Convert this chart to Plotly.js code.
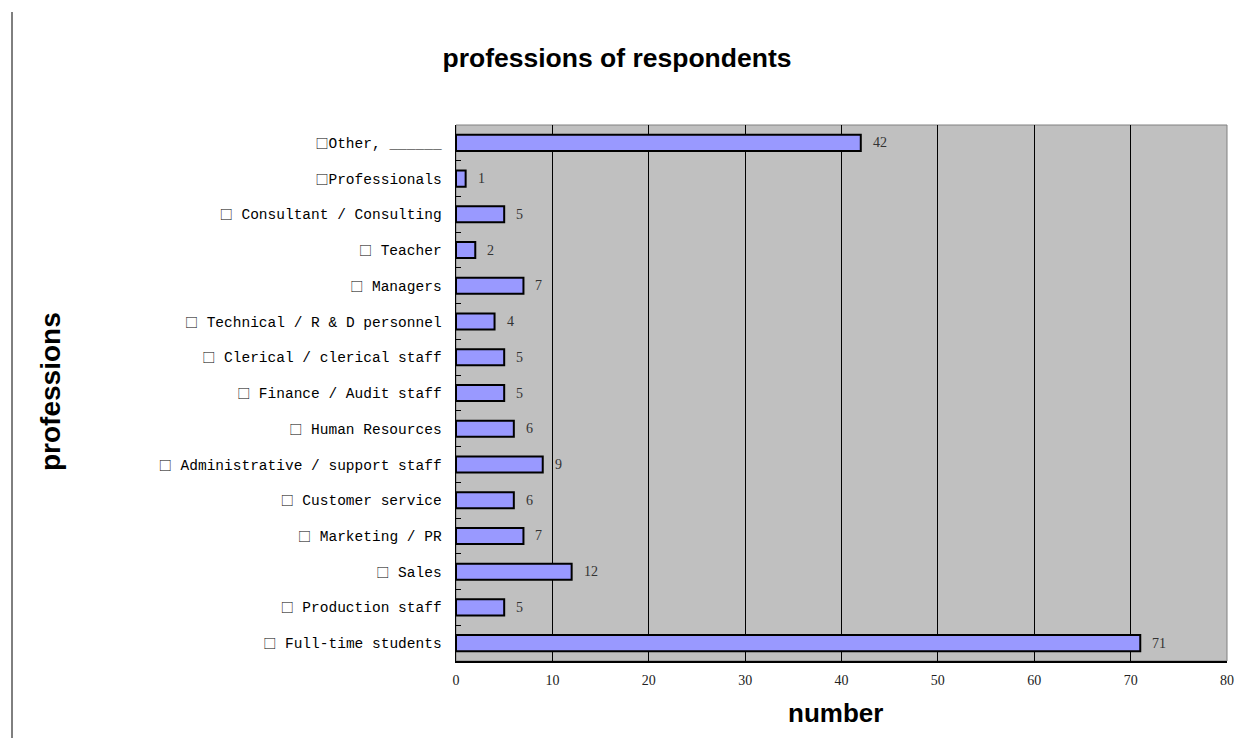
<!DOCTYPE html>
<html>
<head>
<meta charset="utf-8">
<script src="https://cdn.plot.ly/plotly-3.0.1.min.js"></script>
<style>
  html, body { margin: 0; padding: 0; background: #fff; }
  #chart { width: 1246px; height: 738px; }
</style>
</head>
<body>
<div id="chart"></div>
<script>
// Professions, listed bottom to top
const professions = [
  "□ Full-time students",
  "□ Production staff",
  "□ Sales",
  "□ Marketing / PR",
  "□ Customer service",
  "□ Administrative / support staff",
  "□ Human Resources",
  "□ Finance / Audit staff",
  "□ Clerical / clerical staff",
  "□ Technical / R & D personnel",
  "□ Managers",
  "□ Teacher",
  "□ Consultant / Consulting",
  "□Professionals",
  "□Other, ______"
];
const counts = [71, 5, 12, 7, 6, 9, 6, 5, 5, 4, 7, 2, 5, 1, 42];
const xTicks = [0, 10, 20, 30, 40, 50, 60, 70, 80];

const labelFont = "'Liberation Mono', 'DejaVu Sans Mono', monospace";
const numFont = "'Liberation Serif', 'DejaVu Serif', serif";
const titleFont = "'Liberation Sans', Arial, sans-serif";

// the check box glyph is set in a full-width CJK face
const boxed = s => s.replace("□",
  "<span style=\"font-family:'Noto Sans CJK SC';font-size:13px\">□</span>");

// plot area in pixels, used to place page-level decorations
const L = 456, R = 1227, T = 125, B = 661;
const px = x => (x - L) / (R - L);
const py = y => (B - y) / (B - T);

const trace = {
  type: "bar",
  orientation: "h",
  x: counts,
  y: professions,
  width: 0.45,
  marker: { color: "#9999FF", line: { color: "#000", width: 2 } },
  hoverinfo: "x+y"
};

// value labels just past each bar end
const valueLabels = counts.map((v, i) => ({
  x: v, y: professions[i], xref: "x", yref: "y",
  text: String(v), showarrow: false,
  xanchor: "left", xshift: 10,
  font: { family: numFont, size: 14, color: "#333" }
}));

const layout = {
  width: 1246, height: 738,
  margin: { l: L, r: 1246 - R, t: T, b: 738 - B },
  paper_bgcolor: "#fff",
  plot_bgcolor: "#C0C0C0",
  showlegend: false,
  title: {
    text: "<b>professions of respondents</b>",
    font: { family: titleFont, size: 26.5, color: "#000" },
    xref: "container", x: 617 / 1246, xanchor: "center",
    yref: "container", y: 1 - 58 / 738, yanchor: "middle"
  },
  xaxis: {
    range: [0, 80],
    tickvals: xTicks,
    ticktext: xTicks.map(String),
    showgrid: true, gridcolor: "#000", gridwidth: 1,
    zeroline: false,
    showline: true, linecolor: "#000", linewidth: 1.5,
    ticks: "",
    ticklabelstandoff: 6,
    tickfont: { family: numFont, size: 14, color: "#222" },
    fixedrange: true
  },
  yaxis: {
    type: "category",
    categoryorder: "array",
    categoryarray: professions,
    tickmode: "array",
    tickvals: professions,
    ticktext: professions.map(boxed),
    range: [-0.5, professions.length - 0.5],
    showgrid: false, zeroline: false,
    showline: true, linecolor: "#000", linewidth: 1.5,
    ticks: "inside", tickson: "boundaries", ticklen: 5, tickcolor: "#000", tickwidth: 1,
    ticklabelstandoff: 10,
    tickfont: { family: labelFont, size: 14.5, color: "#000" },
    fixedrange: true
  },
  shapes: [
    // gray frame around the plot area
    { type: "rect", xref: "paper", yref: "paper", x0: 0, x1: 1, y0: 0, y1: 1,
      line: { color: "#808080", width: 1 }, layer: "below" },
    // vertical rule at the page's left edge
    { type: "line", xref: "paper", yref: "paper",
      x0: px(12), x1: px(12), y0: py(12), y1: py(738),
      line: { color: "#000", width: 1 } }
  ],
  annotations: [
    { text: "<b>number</b>", xref: "paper", yref: "paper",
      x: px(835), y: py(713),
      xanchor: "center", yanchor: "middle", showarrow: false,
      font: { family: titleFont, size: 26, color: "#000" } },
    { text: "<b>professions</b>", xref: "paper", yref: "paper",
      x: px(50), y: py(392),
      xanchor: "center", yanchor: "middle", showarrow: false, textangle: -90,
      font: { family: titleFont, size: 28, color: "#000" } }
  ].concat(valueLabels)
};

Plotly.newPlot("chart", [trace], layout, { displayModeBar: false, staticPlot: true });
</script>
</body>
</html>
